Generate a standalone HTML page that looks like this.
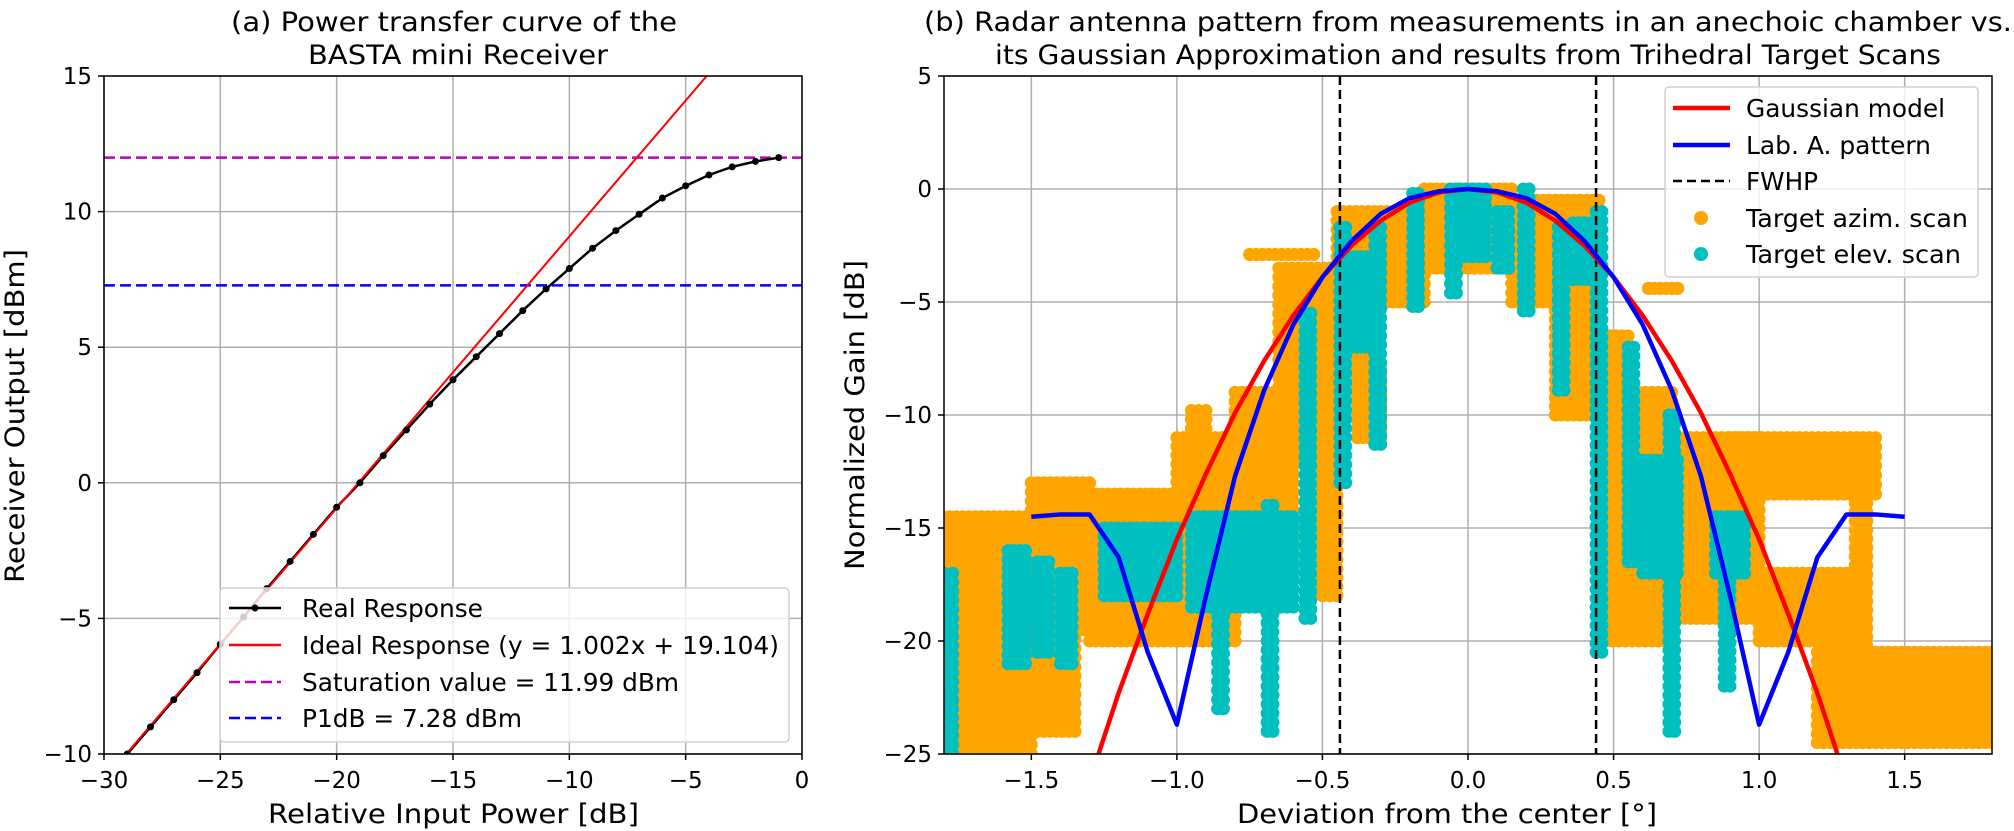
<!DOCTYPE html>
<html><head><meta charset="utf-8"><style>
html,body{margin:0;padding:0;background:#fff;}
svg{display:block;font-family:"DejaVu Sans","Liberation Sans",sans-serif;}
</style></head><body>
<svg id="fig" width="2014" height="831" viewBox="0 0 2014 831" xmlns="http://www.w3.org/2000/svg">
<defs>
<clipPath id="clipA"><rect x="104" y="76" width="698" height="678"/></clipPath>
<clipPath id="clipB"><rect x="944" y="76" width="1048" height="678"/></clipPath>
</defs>
<g id="panelA"></g>
<g id="panelB"></g>
</svg>
<script>
// ---------- Panel A data ----------
const aXTicks = [-30,-25,-20,-15,-10,-5,0];
const aYTicks = [-10,-5,0,5,10,15];
const realX = [-30,-29,-28,-27,-26,-25,-24,-23,-22,-21,-20,-19,-18,-17,-16,-15,-14,-13,-12,-11,-10,-9,-8,-7,-6,-5,-4,-3,-2,-1];
const realY = [-11,-10,-9,-8,-7,-5.95,-4.95,-3.9,-2.9,-1.9,-0.9,0.0,1.0,1.95,2.9,3.8,4.65,5.5,6.35,7.15,7.9,8.65,9.3,9.9,10.5,10.95,11.35,11.65,11.85,11.99];
const idealSlope = [1.002];
const idealIntercept = [19.104];
const saturation = [11.99];
const p1db = [7.28];

// ---------- Panel B data ----------
const bXTicks = [-1.5,-1.0,-0.5,0.0,0.5,1.0,1.5];
const bYTicks = [-25,-20,-15,-10,-5,0,5];
const gaussX = [-1.3,-1.2,-1.1,-1.0,-0.9,-0.8,-0.7,-0.6,-0.5,-0.4,-0.3,-0.2,-0.1,0,0.1,0.2,0.3,0.4,0.5,0.6,0.7,0.8,0.9,1.0,1.1,1.2,1.3];
const gaussY = [-26.2,-22.3,-18.8,-15.5,-12.6,-9.9,-7.6,-5.6,-3.9,-2.5,-1.4,-0.6,-0.15,0,-0.15,-0.6,-1.4,-2.5,-3.9,-5.6,-7.6,-9.9,-12.6,-15.5,-18.8,-22.3,-26.2];
const labX = [-1.5,-1.4,-1.3,-1.2,-1.1,-1.0,-0.9,-0.8,-0.7,-0.6,-0.5,-0.4,-0.3,-0.2,-0.1,0,0.1,0.2,0.3,0.4,0.5,0.6,0.7,0.8,0.9,1.0,1.1,1.2,1.3,1.4,1.5];
const labY = [-14.5,-14.4,-14.4,-16.3,-20.5,-23.7,-18,-12.7,-8.9,-6,-3.9,-2.3,-1.1,-0.4,-0.1,0,-0.1,-0.4,-1.1,-2.3,-3.9,-6,-8.9,-12.7,-18,-23.7,-20.5,-16.3,-14.4,-14.4,-14.5];
const fwhp = [-0.44,0.44];
// scatter regions: [x0, x1, yTop, yBottom]
const azimRegions = [[-1.8,-1.5,-14.5,-25],[-1.5,-1.3,-13,-19.5],[-1.5,-1.35,-19.5,-24],[-1.3,-1.0,-13.5,-20],[-1.0,-0.8,-11,-20],[-0.95,-0.9,-9.8,-11],[-0.8,-0.6,-9,-17],[-0.65,-0.45,-3.5,-12],[-0.5,-0.45,-12,-18],[-0.45,-0.15,-1,-5],[-0.45,-0.35,-5,-8],[-0.38,-0.3,-8,-11],[-0.15,0.15,0,-3.5],[0.15,0.45,-0.5,-5],[0.3,0.45,-5,-10],[0.45,0.7,-9,-20],[0.47,0.55,-6.5,-9],[0.7,1.0,-11,-19],[0.9,1.4,-11,-13.5],[1.0,1.3,-17,-20],[1.33,1.37,-13.5,-21],[1.2,1.8,-20.5,-24.5],[0.62,0.72,-4.4,-4.4],[-0.75,-0.53,-2.9,-2.9]];
const elevRegions = [[-1.8,-1.77,-17,-25],[-1.58,-1.52,-16,-21],[-1.48,-1.44,-16.5,-20.5],[-1.40,-1.36,-17,-21],[-1.25,-1.0,-15,-18],[-0.95,-0.6,-14.5,-18.5],[-0.86,-0.84,-18.5,-23],[-0.69,-0.67,-14,-24],[-0.56,-0.54,-5.5,-19],[-0.44,-0.42,-1.7,-13],[-0.32,-0.30,-1.7,-11.3],[-0.40,-0.34,-3,-7],[-0.19,-0.17,-0.2,-5.2],[-0.06,-0.04,0,-4.6],[-0.03,0.06,0,-3],[0.19,0.21,0,-5.4],[0.10,0.14,-1,-3.5],[0.31,0.33,-1.7,-8.9],[0.36,0.42,-1.5,-4],[0.44,0.46,-1,-20.5],[0.55,0.57,-7,-16.5],[0.60,0.72,-12,-17],[0.69,0.71,-10,-24],[0.85,0.95,-14.5,-17],[0.88,0.9,-17,-22]];

const NS='http://www.w3.org/2000/svg';
function mk(parent, tag, attrs, text){const e=document.createElementNS(NS,tag);for(const k in attrs)e.setAttribute(k,attrs[k]);if(text!==undefined)e.textContent=text;parent.appendChild(e);return e;}
function fit(el,len){el.setAttribute('textLength',len);el.setAttribute('lengthAdjust','spacingAndGlyphs');return el;}
function fmt(v,d){return (v<0?'\u2212':'')+Math.abs(v).toFixed(d);}

// ===== Panel A =====
(function(){
const g=document.getElementById('panelA');
const L=104,R=802,T=76,B=754;
const ax=v=>L+(v+30)/30*(R-L);
const ay=v=>B-(v+10)/25*(B-T);
const grid=mk(g,'g',{});


aXTicks.forEach(t=>{mk(grid,'line',{x1:ax(t),x2:ax(t),y1:T,y2:B,stroke:'#b0b0b0','stroke-width':1.5});});
aYTicks.forEach(t=>{mk(grid,'line',{x1:L,x2:R,y1:ay(t),y2:ay(t),stroke:'#b0b0b0','stroke-width':1.5});});
const plot=mk(g,'g',{'clip-path':'url(#clipA)'});
const sat=mk(plot,'line',{x1:L,x2:R,y1:ay(saturation[0]),y2:ay(saturation[0]),stroke:'#bf00bf','stroke-width':2.5,'stroke-dasharray':'11 5'});


const p1=mk(plot,'line',{x1:L,x2:R,y1:ay(p1db[0]),y2:ay(p1db[0]),stroke:'#0000ff','stroke-width':2.5,'stroke-dasharray':'11 5'});


let pts=realX.map((x,i)=>ax(x)+','+ay(realY[i])).join(' ');
const real=mk(plot,'polyline',{points:pts,fill:'none',stroke:'#000','stroke-width':2.5});


const ideal=mk(plot,'line',{x1:ax(-30),y1:ay(idealSlope[0]*-30+idealIntercept[0]),x2:ax(0),y2:ay(idealIntercept[0]),stroke:'#ff0000','stroke-width':2});


realX.forEach((x,i)=>{const c=mk(plot,'circle',{cx:ax(x),cy:ay(realY[i]),r:3.5,fill:'#000'});

});
mk(g,'rect',{x:L,y:T,width:R-L,height:B-T,fill:'none',stroke:'#000','stroke-width':1.5});
aXTicks.forEach(t=>{mk(g,'line',{x1:ax(t),x2:ax(t),y1:B,y2:B+6,stroke:'#000','stroke-width':1.5});
const tl=mk(g,'text',{x:ax(t),y:788,'font-size':23,'text-anchor':'middle'},fmt(t,0));

});
aYTicks.forEach(t=>{mk(g,'line',{x1:L-6,x2:L,y1:ay(t),y2:ay(t),stroke:'#000','stroke-width':1.5});
const tl=mk(g,'text',{x:92,y:ay(t)+8,'font-size':23,'text-anchor':'end'},fmt(t,0));

});
const xl=fit(mk(g,'text',{x:268,y:823,'font-size':27},'Relative Input Power [dB]'),371);


const yl=fit(mk(g,'text',{x:0,y:0,'font-size':27,transform:'translate(24,583) rotate(-90)'},'Receiver Output [dBm]'),334);


const t1=fit(mk(g,'text',{x:231,y:31,'font-size':27},'(a) Power transfer curve of the'),446);


fit(mk(g,'text',{x:308,y:64,'font-size':27},'BASTA mini Receiver'),300);
// legend
const lg=mk(g,'g',{});


mk(lg,'rect',{x:220,y:588,width:569,height:154,rx:4,fill:'#fff','fill-opacity':0.8,stroke:'#d0d0d0','stroke-width':1.5});
const items=[['Real Response','#000','',181],['Ideal Response (y = 1.002x + 19.104)','#ff0000','',477],['Saturation value = 11.99 dBm','#bf00bf','11 5',377],['P1dB = 7.28 dBm','#0000ff','11 5',220]];
const ys=[608,645,682,718];
items.forEach((it,i)=>{const e=mk(lg,'g',{});


mk(e,'line',{x1:229,x2:281,y1:ys[i],y2:ys[i],stroke:it[1],'stroke-width':2.5,'stroke-dasharray':it[2]||'none'});
if(i===0)mk(e,'circle',{cx:255,cy:ys[i],r:3.5,fill:'#000'});
fit(mk(e,'text',{x:302,y:ys[i]+9,'font-size':25},it[0]),it[3]);});
})();

// ===== Panel B =====
(function(){
const g=document.getElementById('panelB');
const L=944,R=1992,T=76,B=754;
const bx=v=>L+(v+1.8)/3.6*(R-L);
const by=v=>B-(v+25)/30*(B-T);
const grid=mk(g,'g',{});


bXTicks.forEach(t=>{mk(grid,'line',{x1:bx(t),x2:bx(t),y1:T,y2:B,stroke:'#b0b0b0','stroke-width':1.5});});
bYTicks.forEach(t=>{mk(grid,'line',{x1:L,x2:R,y1:by(t),y2:by(t),stroke:'#b0b0b0','stroke-width':1.5});});
const plot=mk(g,'g',{'clip-path':'url(#clipB)'});
function scatter(regions,color,name){const sg=mk(plot,'g',{fill:color});


regions.forEach(r=>{const nx=Math.max(1,Math.round((r[1]-r[0])/0.022));const ny=Math.max(1,Math.round((r[2]-r[3])/0.4));
for(let i=0;i<=nx;i++)for(let j=0;j<=ny;j++){const x=r[0]+(r[1]-r[0])*i/nx;const y=r[2]-(r[2]-r[3])*j/ny;
mk(sg,'circle',{cx:bx(x).toFixed(1),cy:by(y).toFixed(1),r:6.5});}});}
scatter(azimRegions,'#ffa500','azim-scan-points');
scatter(elevRegions,'#00bfbf','elev-scan-points');
fwhp.forEach(v=>{const l=mk(plot,'line',{x1:bx(v),x2:bx(v),y1:T,y2:B,stroke:'#000','stroke-width':2.5,'stroke-dasharray':'9 5'});

});
const gl=mk(plot,'polyline',{points:gaussX.map((x,i)=>bx(x)+','+by(gaussY[i])).join(' '),fill:'none',stroke:'#ff0000','stroke-width':4.5});


const bl=mk(plot,'polyline',{points:labX.map((x,i)=>bx(x)+','+by(labY[i])).join(' '),fill:'none',stroke:'#0000ff','stroke-width':4.5,'stroke-linejoin':'round'});


mk(g,'rect',{x:L,y:T,width:R-L,height:B-T,fill:'none',stroke:'#000','stroke-width':1.5});
bXTicks.forEach(t=>{mk(g,'line',{x1:bx(t),x2:bx(t),y1:B,y2:B+6,stroke:'#000','stroke-width':1.5});
const tl=mk(g,'text',{x:bx(t),y:788,'font-size':23,'text-anchor':'middle'},fmt(t,1));

});
bYTicks.forEach(t=>{mk(g,'line',{x1:L-6,x2:L,y1:by(t),y2:by(t),stroke:'#000','stroke-width':1.5});
const tl=mk(g,'text',{x:932,y:by(t)+8,'font-size':23,'text-anchor':'end'},fmt(t,0));

});
const xl=fit(mk(g,'text',{x:1237,y:823,'font-size':27},'Deviation from the center [\u00b0]'),420);


const yl=fit(mk(g,'text',{x:0,y:0,'font-size':27,transform:'translate(864,570) rotate(-90)'},'Normalized Gain [dB]'),310);


const t1=fit(mk(g,'text',{x:924,y:31,'font-size':27},'(b) Radar antenna pattern from measurements in an anechoic chamber vs.'),1088);


fit(mk(g,'text',{x:995,y:64,'font-size':27},'its Gaussian Approximation and results from Trihedral Target Scans'),946);
const lg=mk(g,'g',{});


mk(lg,'rect',{x:1665,y:87,width:313,height:190,rx:4,fill:'#fff','fill-opacity':0.8,stroke:'#d0d0d0','stroke-width':1.5});
const items=[['Gaussian model','line','#ff0000','',199],['Lab. A. pattern','line','#0000ff','',185],['FWHP','line','#000','9 5',72],['Target azim. scan','dot','#ffa500','',222],['Target elev. scan','dot','#00bfbf','',215]];
const ys=[108,145,181,218,254];
items.forEach((it,i)=>{const e=mk(lg,'g',{});


if(it[1]==='line')mk(e,'line',{x1:1673,x2:1730,y1:ys[i],y2:ys[i],stroke:it[2],'stroke-width':it[3]?2.5:4.5,'stroke-dasharray':it[3]||'none'});
else mk(e,'circle',{cx:1701,cy:ys[i],r:7,fill:it[2]});
fit(mk(e,'text',{x:1746,y:ys[i]+9,'font-size':25},it[0]),it[4]);});
})();
</script>
</body></html>
